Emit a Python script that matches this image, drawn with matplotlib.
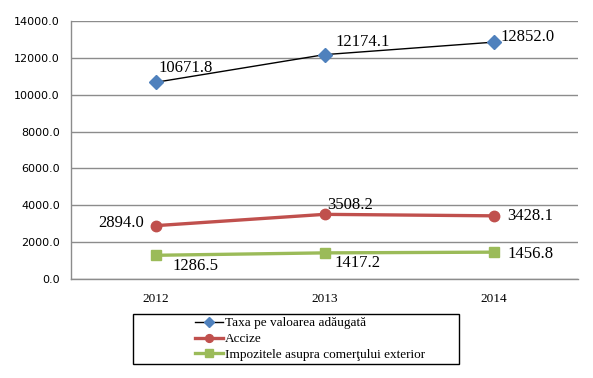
import matplotlib
matplotlib.use("Agg")
import matplotlib.pyplot as plt
from matplotlib.patches import Rectangle

years = ["2012", "2013", "2014"]
tva = [10671.8, 12174.1, 12852.0]
accize = [2894.0, 3508.2, 3428.1]
impozite = [1286.5, 1417.2, 1456.8]
series_names = ["Taxa pe valoarea adăugată", "Accize", "Impozitele asupra comerţului exterior"]
yticks = [0, 2000, 4000, 6000, 8000, 10000, 12000, 14000]

W, H = 593, 378
fig = plt.figure(figsize=(W / 100, H / 100), dpi=100)
ax = fig.add_axes([71 / W, (H - 279) / H, (578 - 71) / W, (279 - 21) / H])

x = list(range(len(years)))
serif = "Liberation Serif"

ax.plot(x, tva, color="black", lw=1.0, marker="D", ms=7, mfc="#4F81BD", mec="#4F81BD",
        label=series_names[0], zorder=3)
ax.plot(x, accize, color="#C0504D", lw=2.4, marker="o", ms=7.5, mfc="#C0504D", mec="#C0504D",
        label=series_names[1], zorder=3)
ax.plot(x, impozite, color="#9BBB59", lw=2.4, marker="s", ms=7, mfc="#9BBB59", mec="#9BBB59",
        label=series_names[2], zorder=3)

ax.set_xlim(-0.5, 2.5)
ax.set_ylim(0, 14000)
ax.set_yticks(yticks)
ax.set_yticklabels([f"{v:.1f}" for v in yticks], fontsize=8, family="DejaVu Sans")
ax.set_xticks(x)
ax.set_xticklabels(years, fontsize=9.5, family=serif)
ax.tick_params(axis="both", length=0, pad=8)
ax.tick_params(axis="x", pad=10)
ax.grid(axis="y", color="#8C8C8C", lw=1.0)
ax.set_axisbelow(True)
for s in ["top", "right"]:
    ax.spines[s].set_visible(False)
for s in ["left", "bottom"]:
    ax.spines[s].set_color("#8C8C8C")
    ax.spines[s].set_linewidth(1.0)

# data labels: (dx, dy) offsets in points, alignment
offs_tva = [((2, 10), "left"), ((8, 9), "left"), ((5, 4), "left")]
offs_acc = [((-8, 2), "right"), ((2, 7), "left"), ((10, 0), "left")]
offs_imp = [((12, -8), "left"), ((7, -7), "left"), ((10, -1), "left")]
for vals, offs in [(tva, offs_tva), (accize, offs_acc), (impozite, offs_imp)]:
    for xi, v, ((dx, dy), ha) in zip(x, vals, offs):
        ax.annotate(f"{v:.1f}", (xi, v), xytext=(dx, dy), textcoords="offset points",
                    ha=ha, va="center", fontsize=12, family=serif)

# legend with a wide frame
fig.patches.append(Rectangle((133 / W, (H - 364) / H), (459 - 133) / W, (364 - 314) / H,
                             transform=fig.transFigure, fill=False, ec="black", lw=1.0))
leg = fig.legend(loc="upper left", bbox_to_anchor=(195 / W, (H - 317) / H),
                 frameon=False, prop={"family": serif, "size": 9.5},
                 handlelength=2.1, handletextpad=0.15, labelspacing=0.28,
                 borderpad=0, borderaxespad=0, markerscale=0.75)

fig.savefig("out.png", dpi=100)
